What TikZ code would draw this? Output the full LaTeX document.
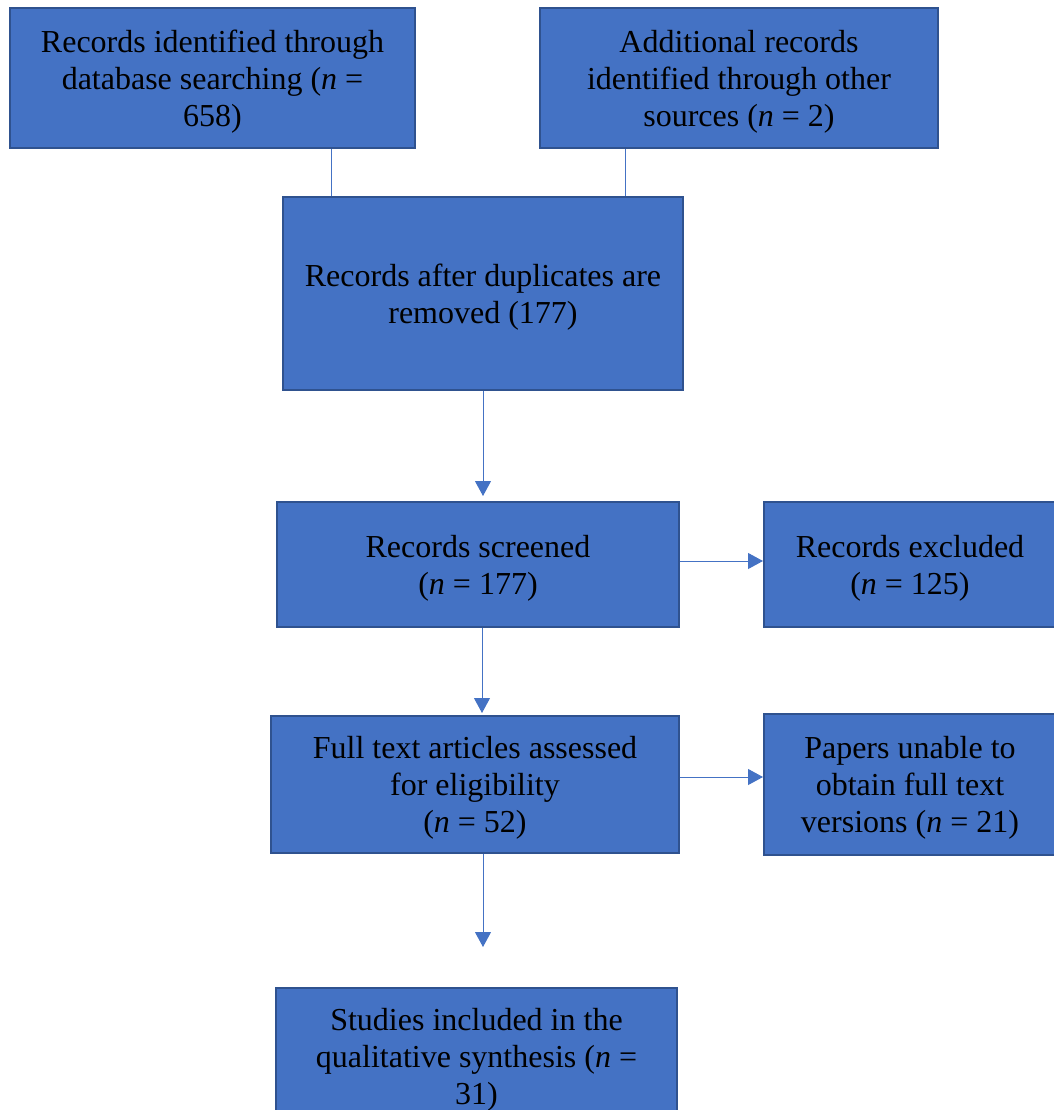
\documentclass[tikz,border=0pt]{standalone}
\usepackage{fontspec}
\setmainfont{Liberation Serif}
\usepackage{xcolor}
\usetikzlibrary{arrows.meta, positioning}
\definecolor{boxblue}{HTML}{4472C4}
\definecolor{boxedge}{HTML}{2F528F}

\begin{document}
\begin{tikzpicture}[
  x=0.5pt, y=-0.5pt,
  flowbox/.style={draw=boxedge, line width=1pt, fill=boxblue, inner sep=0pt, align=center, text=black,
    font=\fontsize{16}{18.5}\selectfont, text depth=-1.5pt},
  link/.style={draw=boxblue, line width=0.5pt},
  arr/.style={link, -{Triangle[length=7.5pt, width=8pt]}}
]
  \useasboundingbox (0,0) rectangle (1054,1110);
  \clip (0,0) rectangle (1054,1110);

  % Identification
  \node[flowbox, minimum width=202.5pt, minimum height=70pt] (db) at (212.5,78)
    {Records identified through\\ database searching (\textit{n} =\\ 658)};
  \node[flowbox, minimum width=199pt, minimum height=70pt] (other) at (739,78)
    {Additional records\\ identified through other\\ sources (\textit{n} = 2)};

  % Screening
  \node[flowbox, minimum width=200pt, minimum height=96.5pt] (dups) at (483,293.5)
    {Records after duplicates are\\ removed (177)};
  \node[flowbox, minimum width=201pt, minimum height=62.5pt] (screened) at (478,564.5)
    {Records screened\\ (\textit{n} = 177)};
  \node[flowbox, minimum width=146pt, minimum height=62.5pt] (excluded) at (910,564.5)
    {Records excluded\\ (\textit{n} = 125)};

  % Eligibility
  \node[flowbox, minimum width=204pt, minimum height=68.5pt] (fulltext) at (475,784.5)
    {Full text articles assessed\\ for eligibility\\ (\textit{n} = 52)};
  \node[flowbox, minimum width=146pt, minimum height=70.5pt] (unable) at (910,784.5)
    {Papers unable to\\ obtain full text\\ versions (\textit{n} = 21)};

  % Included
  \node[flowbox, minimum width=200.5pt, minimum height=68pt] (included) at (476.5,1056)
    {Studies included in the\\ qualitative synthesis (\textit{n} =\\ 31)};

  % Connections
  \coordinate (joinA) at (331,0);
  \coordinate (joinB) at (625,0);
  \coordinate (incEnd) at (483,947);
  \draw[link] (joinA |- db.south) -- (joinA |- dups.north);
  \draw[link] (joinB |- other.south) -- (joinB |- dups.north);
  \draw[arr, shorten >=2.5pt] (dups.south) -- (dups.south |- screened.north);
  \draw[arr] (screened.east |- 0,561) -- (excluded.west |- 0,561);
  \draw[arr, shorten >=1pt] (482,0 |- screened.south) -- (482,0 |- fulltext.north);
  \draw[arr] (fulltext.east |- 0,777) -- (unable.west |- 0,777);
  \draw[arr] (incEnd |- fulltext.south) -- (incEnd);
\end{tikzpicture}
\end{document}
